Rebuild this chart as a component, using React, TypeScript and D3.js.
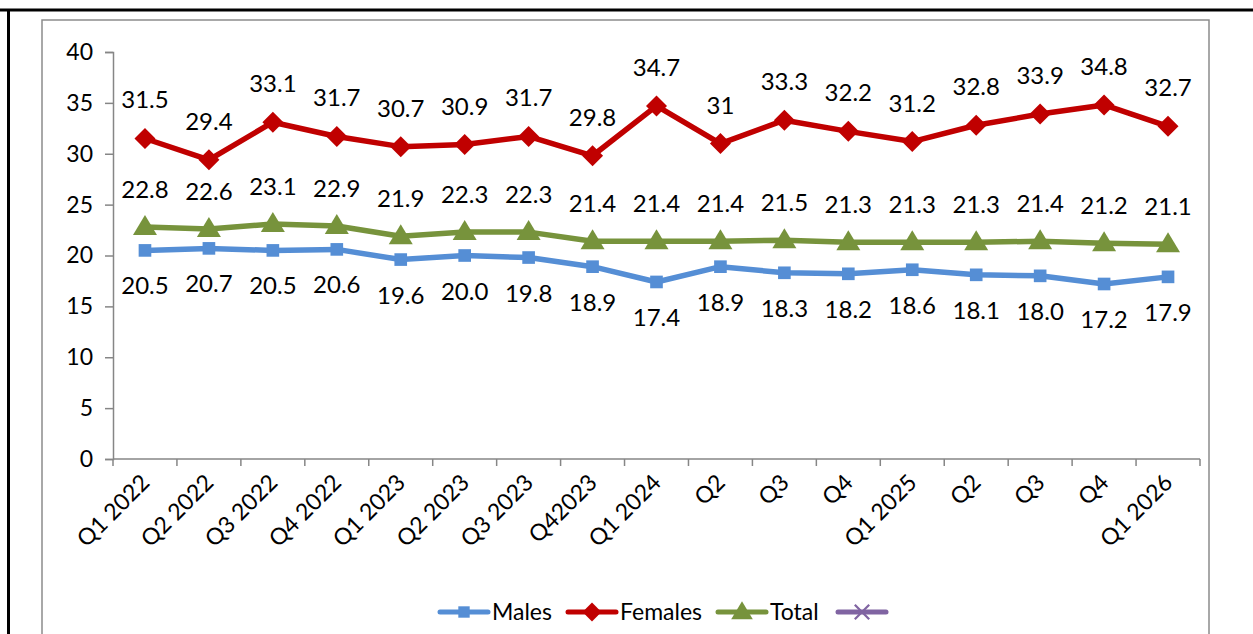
import * as d3 from "d3";
import React, { useEffect, useRef } from "react";

const categories = [
  "Q1 2022", "Q2 2022", "Q3 2022", "Q4 2022", "Q1 2023", "Q2 2023", "Q3 2023", "Q42023",
  "Q1 2024", "Q2", "Q3", "Q4", "Q1 2025", "Q2 ", "Q3 ", "Q4 ", "Q1 2026",
];
const males = [20.5, 20.7, 20.5, 20.6, 19.6, 20.0, 19.8, 18.9, 17.4, 18.9, 18.3, 18.2, 18.6, 18.1, 18.0, 17.2, 17.9];
const females = [31.5, 29.4, 33.1, 31.7, 30.7, 30.9, 31.7, 29.8, 34.7, 31, 33.3, 32.2, 31.2, 32.8, 33.9, 34.8, 32.7];
const total = [22.8, 22.6, 23.1, 22.9, 21.9, 22.3, 22.3, 21.4, 21.4, 21.4, 21.5, 21.3, 21.3, 21.3, 21.4, 21.2, 21.1];
const yTicks = [0, 5, 10, 15, 20, 25, 30, 35, 40];

const FONT = "Lato, 'Open Sans', sans-serif";
const W = 1253;
const H = 634;

export default function App() {
  const svgRef = useRef<SVGSVGElement>(null);

  useEffect(() => {
    const svg = d3.select(svgRef.current);
    svg.selectAll("*").remove();

    const x = d3.scaleBand().domain(categories).range([113, 1200]);
    const y = d3.scaleLinear().domain([0, 40]).range([459, 52]);
    const cx = (c: string) => (x(c) as number) + x.bandwidth() / 2;

    // frames
    svg.append("rect").attr("width", W).attr("height", H).attr("fill", "#fff");
    svg.append("line").attr("x1", 0).attr("x2", W).attr("y1", 10).attr("y2", 10)
      .attr("stroke", "#000").attr("stroke-width", 3);
    svg.append("line").attr("x1", 8.5).attr("x2", 8.5).attr("y1", 10).attr("y2", H)
      .attr("stroke", "#000").attr("stroke-width", 3);
    svg.append("path").attr("d", `M42,${H} V20 H1209 V${H}`)
      .attr("fill", "none").attr("stroke", "#8c8c8c").attr("stroke-width", 1.5);

    // y axis
    const yAxis = d3.axisLeft(y).tickValues(yTicks).tickSize(8).tickPadding(12);
    const gy = svg.append("g").attr("transform", "translate(113,0)").call(yAxis);
    gy.selectAll("path, line").attr("stroke", "#868686").attr("stroke-width", 1.5);
    gy.selectAll("text").attr("font-family", FONT).attr("font-size", 23).attr("fill", "#000");

    // x axis
    const gx = svg.append("g");
    gx.append("line").attr("x1", 113).attr("x2", 1200).attr("y1", y(0)).attr("y2", y(0))
      .attr("stroke", "#868686").attr("stroke-width", 1.5);
    const bounds = categories.map((c) => x(c) as number).concat([1200]);
    gx.selectAll(".xt").data(bounds).join("line").attr("class", "xt")
      .attr("x1", (d) => d).attr("x2", (d) => d).attr("y1", y(0)).attr("y2", y(0) + 7)
      .attr("stroke", "#868686").attr("stroke-width", 1.5);
    gx.selectAll(".xl").data(categories).join("text").attr("class", "xl")
      .attr("transform", (c) => `translate(${cx(c) + 6},${y(0) + 25}) rotate(-45)`)
      .attr("text-anchor", "end")
      .attr("font-family", FONT).attr("font-size", 23).attr("fill", "#000")
      .text((c) => c.trim());

    const series = [
      { name: "Males", values: males, color: "#558ED5", marker: "square", dy: 44, fmt: (v: number) => v.toFixed(1) },
      { name: "Females", values: females, color: "#C00000", marker: "diamond", dy: -30, fmt: (v: number) => String(v) },
      { name: "Total", values: total, color: "#77933C", marker: "triangle", dy: -29, fmt: (v: number) => v.toFixed(1) },
    ];

    const markerPath = (kind: string) => {
      if (kind === "square") return d3.symbol(d3.symbolSquare, 160)();
      if (kind === "diamond") return "M0,-10.5 L10.5,0 L0,10.5 L-10.5,0 Z";
      if (kind === "triangle") return "M0,-12 L12,8 L-12,8 Z";
      return "M-8,-8 L8,8 M-8,8 L8,-8";
    };

    const line = d3.line<number>().x((_, i) => cx(categories[i])).y((d) => y(d));

    series.forEach((s) => {
      const g = svg.append("g");
      g.append("path").datum(s.values).attr("d", line)
        .attr("fill", "none").attr("stroke", s.color).attr("stroke-width", 5.5)
        .attr("stroke-linejoin", "round");
      g.selectAll(".m").data(s.values).join("path").attr("class", "m")
        .attr("transform", (d, i) => `translate(${cx(categories[i])},${y(d)})`)
        .attr("d", markerPath(s.marker)).attr("fill", s.color);
    });
    series.forEach((s) => {
      svg.append("g").selectAll("text").data(s.values).join("text")
        .attr("x", (_, i) => cx(categories[i]))
        .attr("y", (d) => y(d) + s.dy)
        .attr("text-anchor", "middle")
        .attr("font-family", FONT).attr("font-size", 24).attr("fill", "#000")
        .text((d) => s.fmt(d));
    });

    // legend
    const legendItems = [
      { name: "Males", color: "#558ED5", marker: "square", x: 440 },
      { name: "Females", color: "#C00000", marker: "diamond", x: 568 },
      { name: "Total", color: "#77933C", marker: "triangle", x: 718 },
      { name: "", color: "#8064A2", marker: "cross", x: 838 },
    ];
    const lg = svg.append("g").attr("transform", "translate(0,612)");
    legendItems.forEach((it) => {
      lg.append("line").attr("x1", it.x).attr("x2", it.x + 48).attr("y1", 0).attr("y2", 0)
        .attr("stroke", it.color).attr("stroke-width", 5).attr("stroke-linecap", "round");
      const mk = lg.append("path").attr("transform", `translate(${it.x + 24},0) scale(0.9)`)
        .attr("d", markerPath(it.marker));
      if (it.marker === "cross") mk.attr("stroke", it.color).attr("stroke-width", 2.5).attr("fill", "none");
      else mk.attr("fill", it.color);
      lg.append("text").attr("x", it.x + 52).attr("y", 8)
        .attr("font-family", FONT).attr("font-size", 23).attr("fill", "#000").text(it.name);
    });
  }, []);

  return (
    <svg ref={svgRef} width={W} height={H}
      style={{ position: "absolute", left: 0, top: 0, display: "block" }} />
  );
}
